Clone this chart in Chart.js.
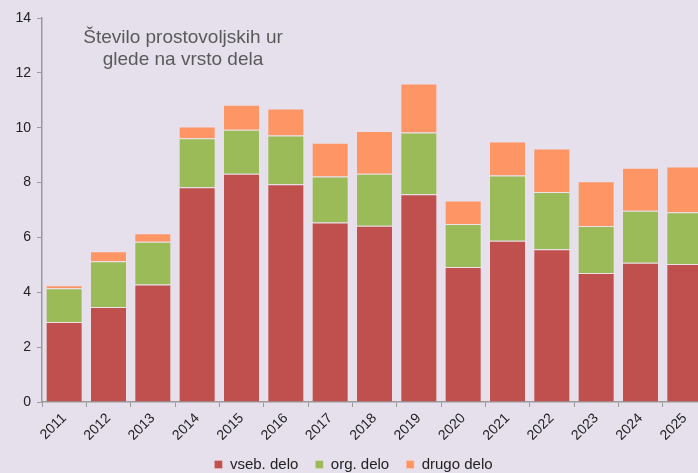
<!DOCTYPE html>
<html>
<head>
<meta charset="utf-8">
<script src="https://cdn.jsdelivr.net/npm/chart.js@4"></script>
<style>
  html, body { margin: 0; padding: 0; background: #e5e0ec; overflow: hidden; }
  #wrap { width: 698px; height: 473px; overflow: hidden; }
</style>
</head>
<body>
<div id="wrap"><canvas id="hoursChart" width="707" height="473"></canvas></div>
<script>
const years = ['2011', '2012', '2013', '2014', '2015', '2016', '2017', '2018',
               '2019', '2020', '2021', '2022', '2023', '2024', '2025'];
const vsebDelo  = [2.92, 3.46, 4.28, 7.83, 8.32, 7.94, 6.54, 6.43, 7.57, 4.92, 5.88, 5.57, 4.70, 5.08, 5.03];
const orgDelo   = [1.23, 1.67, 1.56, 1.79, 1.61, 1.78, 1.68, 1.89, 2.26, 1.57, 2.38, 2.09, 1.72, 1.89, 1.89];
const drugoDelo = [0.11, 0.37, 0.31, 0.42, 0.91, 0.98, 1.23, 1.56, 1.78, 0.86, 1.24, 1.58, 1.63, 1.57, 1.67];
const yTicks = [0, 2, 4, 6, 8, 10, 12, 14];

const ctx = document.getElementById('hoursChart').getContext('2d');
const axisGrey = '#9a9a9a';
const fontFamily = '"Liberation Sans", Arial, sans-serif';

// title sits inside the plot area, top left
const innerTitle = {
    id: 'innerTitle',
    afterDraw(chart) {
        const c = chart.ctx;
        c.save();
        c.fillStyle = '#5a5a5a';
        c.font = '19px ' + fontFamily;
        c.textAlign = 'center';
        c.textBaseline = 'middle';
        c.fillText('Število prostovoljskih ur', 183, 38);
        c.fillText('glede na vrsto dela', 183, 60);
        c.restore();
    }
};

const bar = (label, data, color) => ({
    label: label,
    data: data,
    backgroundColor: color,
    borderColor: 'rgba(255, 225, 225, 0.3)',
    borderWidth: 1,
    categoryPercentage: 1,
    barPercentage: 0.835
});

new Chart(ctx, {
    type: 'bar',
    data: {
        labels: years,
        datasets: [
            bar('vseb. delo', vsebDelo, '#c0504d'),
            bar('org. delo', orgDelo, '#9bbb59'),
            bar('drugo delo', drugoDelo, '#fd9664')
        ]
    },
    options: {
        responsive: false,
        animation: false,
        layout: { padding: { top: 18, right: 0, left: 0, bottom: -9 } },
        plugins: {
            tooltip: { enabled: false },
            legend: {
                position: 'bottom',
                labels: {
                    color: '#222',
                    font: { family: fontFamily, size: 15 },
                    boxWidth: 8,
                    boxHeight: 8,
                    padding: 17
                }
            }
        },
        scales: {
            x: {
                stacked: true,
                afterFit: (scale) => { scale.height = 38; },
                grid: { drawOnChartArea: false, color: axisGrey, tickLength: 5, offset: true },
                border: { color: axisGrey, width: 1.5 },
                ticks: {
                    color: '#222',
                    font: { family: fontFamily, size: 14 },
                    minRotation: 45,
                    maxRotation: 45,
                    padding: 3
                }
            },
            y: {
                stacked: true,
                min: 0,
                max: 14,
                afterFit: (scale) => { scale.width = 42; },
                afterBuildTicks: (scale) => { scale.ticks = yTicks.map(v => ({ value: v })); },
                grid: { drawOnChartArea: false, color: axisGrey, tickLength: 5 },
                border: { color: axisGrey, width: 1.5 },
                ticks: {
                    color: '#222',
                    font: { family: fontFamily, size: 14 },
                    padding: 6
                }
            }
        }
    },
    plugins: [innerTitle]
});
</script>
</body>
</html>
